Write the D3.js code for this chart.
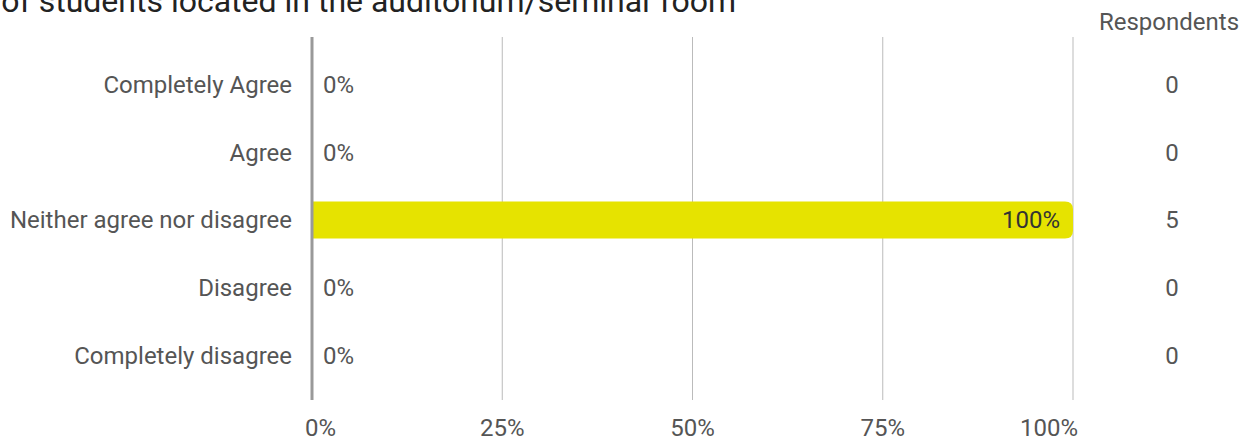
<!DOCTYPE html>
<html>
<head>
<meta charset="utf-8">
<script src="https://cdn.jsdelivr.net/npm/d3@7"></script>
<style>
  body { margin: 0; background: #fff; }
  svg { font-family: Roboto, "Noto Sans", sans-serif; }
</style>
</head>
<body>
<svg id="chart"></svg>
<script>
const title = "Number of students located in the auditorium/seminar room";
const categories = ["Completely Agree", "Agree", "Neither agree nor disagree", "Disagree", "Completely disagree"];
const percents = [0, 0, 100, 0, 0];
const respondents = [0, 0, 5, 0, 0];
const ticks = [0, 25, 50, 75, 100];

const W = 1260, H = 441;
const fs = 24;
const svg = d3.select("#chart").attr("width", W).attr("height", H);

const x = d3.scaleLinear().domain([0, 100]).range([312, 1073]);
const y = d3.scaleBand().domain(categories).range([51, 389]).paddingInner(0.45).paddingOuter(0.225);

// title (clipped at top in the original)
svg.append("text")
    .attr("x", 736).attr("y", 12)
    .attr("text-anchor", "end")
    .attr("font-size", 32)
    .attr("fill", "#222")
    .text(title);

// gridlines
svg.append("g")
    .selectAll("line")
    .data(ticks.slice(1))
    .join("line")
    .attr("x1", d => x(d)).attr("x2", d => x(d))
    .attr("y1", 37).attr("y2", 400)
    .attr("stroke", "#bbb").attr("stroke-width", 1);

// bars
const bh = y.bandwidth();
svg.append("g")
    .selectAll("path")
    .data(categories.filter((c, i) => percents[i] > 0))
    .join("path")
    .attr("fill", "#e6e300")
    .attr("d", c => {
        const i = categories.indexOf(c);
        const x0 = x(0), x1 = x(percents[i]), y0 = y(c), r = 8;
        return `M${x0},${y0}H${x1 - r}Q${x1},${y0} ${x1},${y0 + r}V${y0 + bh - r}Q${x1},${y0 + bh} ${x1 - r},${y0 + bh}H${x0}Z`;
    });

// zero axis line
svg.append("line")
    .attr("x1", x(0)).attr("x2", x(0))
    .attr("y1", 37).attr("y2", 400)
    .attr("stroke", "#999").attr("stroke-width", 3);

// category labels
svg.append("g")
    .selectAll("text")
    .data(categories)
    .join("text")
    .attr("x", 292)
    .attr("y", c => y(c) + bh / 2)
    .attr("dy", "0.35em")
    .attr("text-anchor", "end")
    .attr("font-size", fs)
    .attr("fill", "#555")
    .text(c => c);

// value labels
svg.append("g")
    .selectAll("text")
    .data(categories)
    .join("text")
    .attr("x", (c, i) => percents[i] > 0 ? x(percents[i]) - 13 : x(0) + 11)
    .attr("y", c => y(c) + bh / 2)
    .attr("dy", "0.35em")
    .attr("text-anchor", (c, i) => percents[i] > 0 ? "end" : "start")
    .attr("font-size", fs)
    .attr("fill", (c, i) => percents[i] > 0 ? "#333" : "#555")
    .text((c, i) => percents[i] + "%");

// respondents column
svg.append("text")
    .attr("x", 1169).attr("y", 22)
    .attr("dy", "0.35em")
    .attr("text-anchor", "middle")
    .attr("font-size", fs)
    .attr("fill", "#555")
    .text("Respondents");

svg.append("g")
    .selectAll("text")
    .data(categories)
    .join("text")
    .attr("x", 1172)
    .attr("y", c => y(c) + bh / 2)
    .attr("dy", "0.35em")
    .attr("text-anchor", "middle")
    .attr("font-size", fs)
    .attr("fill", "#555")
    .text((c, i) => respondents[i]);

// x axis labels
svg.append("g")
    .selectAll("text")
    .data(ticks)
    .join("text")
    .attr("x", (d, i) => i === 0 ? x(d) - 7 : i === ticks.length - 1 ? x(d) + 5 : x(d))
    .attr("y", 428)
    .attr("dy", "0.35em")
    .attr("text-anchor", (d, i) => i === 0 ? "start" : i === ticks.length - 1 ? "end" : "middle")
    .attr("font-size", fs)
    .attr("fill", "#555")
    .text(d => d + "%");
</script>
</body>
</html>
